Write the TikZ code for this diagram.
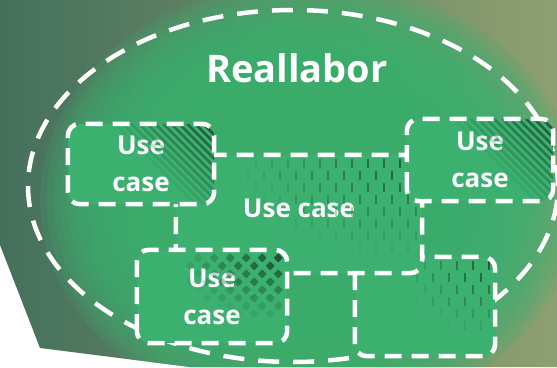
\documentclass[tikz,border=0pt]{standalone}
\usepackage{fontspec}
\setmainfont{Open Sans}

\definecolor{ucgreen}{HTML}{3BB06F}
\definecolor{bgdark}{HTML}{44705C}
\definecolor{bgolive}{HTML}{8FA070}
\definecolor{hatchgreen}{HTML}{1C4530}

% texture in the top right corner of a box, drawn from its north east corner
\newcommand{\hatchstripes}{
    \foreach \k in {0,...,12}{
        \pgfmathsetmacro\op{0.9*(1-\k/13)}
        \draw[hatchgreen,line width=2.5pt,opacity=\op] (-8*\k-3,0)--++(120,120);
    }
}
\newcommand{\hatchdashes}[2]{
    \foreach \i in {0,...,#1}{
        \foreach \j in {0,...,#2}{
            \pgfmathsetmacro\op{max(0,0.8*(1-sqrt((\i/#1)^2+(\j/#2)^2)))}
            \pgfmathsetmacro\xx{-6-16*\i-8*mod(\j,2)}
            \draw[hatchgreen,line width=1.8pt,opacity=\op] (\xx,4+12*\j)--++(0,9);
        }
    }
}
\newcommand{\hatchdiamonds}{
    \foreach \i in {0,...,6}{
        \foreach \j in {0,...,8}{
            \pgfmathsetmacro\op{max(0,0.85*(1-sqrt((\i/6)^2+(\j/8)^2)))}
            \pgfmathsetmacro\xx{-9-16*\i-8*mod(\j,2)}
            \fill[hatchgreen,opacity=\op] (\xx,8+8*\j) +(0,-4.5)--+(4.5,0)--+(0,4.5)--+(-4.5,0)--cycle;
        }
    }
}

\begin{document}
\begin{tikzpicture}[x=1pt,y=-1pt,
    ucline/.style={draw=white,line width=4.5pt,dash pattern=on 17pt off 10pt,rounded corners=12pt},
    ucfill/.style={fill=ucgreen,rounded corners=12pt,inner sep=0pt,
        text=white,align=center,font=\bfseries\fontsize{26}{37}\selectfont}]
    \useasboundingbox (0,0) rectangle (557,367);

    % background with a soft green glow
    \begin{scope}
        \clip (0,0)--(557,0)--(557,367)--(190,367)--(40,348)--(0,245)--cycle;
        \shade[left color=bgdark,right color=bgolive] (0,0) rectangle (557,367);
        \foreach \s in {0,...,19}{
            \fill[ucgreen,opacity=0.18] (310,200) ellipse [x radius={270pt*(1-\s/40)},y radius={220pt*(1-\s/40)}];
        }
    \end{scope}

    \draw[white,line width=4.5pt,dash pattern=on 21pt off 14pt] (293,186) ellipse [x radius=265pt,y radius=176pt];

    \node[text=white,font=\bfseries\fontsize{38}{40}\selectfont,anchor=base] (title) at (297,82) {Reallabor};

    % use cases, back to front
    \node[ucfill,minimum width=140pt,minimum height=99pt] (ucD) at (425,306.5) {};
    \begin{scope}
        \clip[rounded corners=12pt] (ucD.south west) rectangle (ucD.north east);
        \begin{scope}[shift={(ucD.north east)}] \hatchdashes{5}{6} \end{scope}
    \end{scope}
    \draw[ucline] (ucD.south west) rectangle (ucD.north east);

    \node[ucfill,minimum width=246pt,minimum height=118pt,text depth=12pt] (ucM) at (299,214) {Use case};
    \begin{scope}
        \clip[rounded corners=12pt] (ucM.south west) rectangle (ucM.north east);
        \begin{scope}[shift={(ucM.north east)}] \hatchdashes{11}{8} \end{scope}
    \end{scope}
    \draw[ucline] (ucM.south west) rectangle (ucM.north east);

    \node[ucfill,minimum width=146pt,minimum height=80pt] (ucA) at (141,164) {Use\\case};
    \begin{scope}
        \clip[rounded corners=12pt] (ucA.south west) rectangle (ucA.north east);
        \begin{scope}[shift={(ucA.north east)}] \hatchstripes \end{scope}
    \end{scope}
    \draw[ucline] (ucA.south west) rectangle (ucA.north east);

    \node[ucfill,minimum width=146pt,minimum height=82pt] (ucB) at (480,160) {Use\\case};
    \begin{scope}
        \clip[rounded corners=12pt] (ucB.south west) rectangle (ucB.north east);
        \begin{scope}[shift={(ucB.north east)}] \hatchstripes \end{scope}
    \end{scope}
    \draw[ucline] (ucB.south west) rectangle (ucB.north east);

    \node[ucfill,minimum width=150pt,minimum height=93pt] (ucC) at (212,296.5) {Use\\case};
    \begin{scope}
        \clip[rounded corners=12pt] (ucC.south west) rectangle (ucC.north east);
        \begin{scope}[shift={(ucC.north east)}] \hatchdiamonds \end{scope}
    \end{scope}
    \draw[ucline] (ucC.south west) rectangle (ucC.north east);
\end{tikzpicture}
\end{document}
